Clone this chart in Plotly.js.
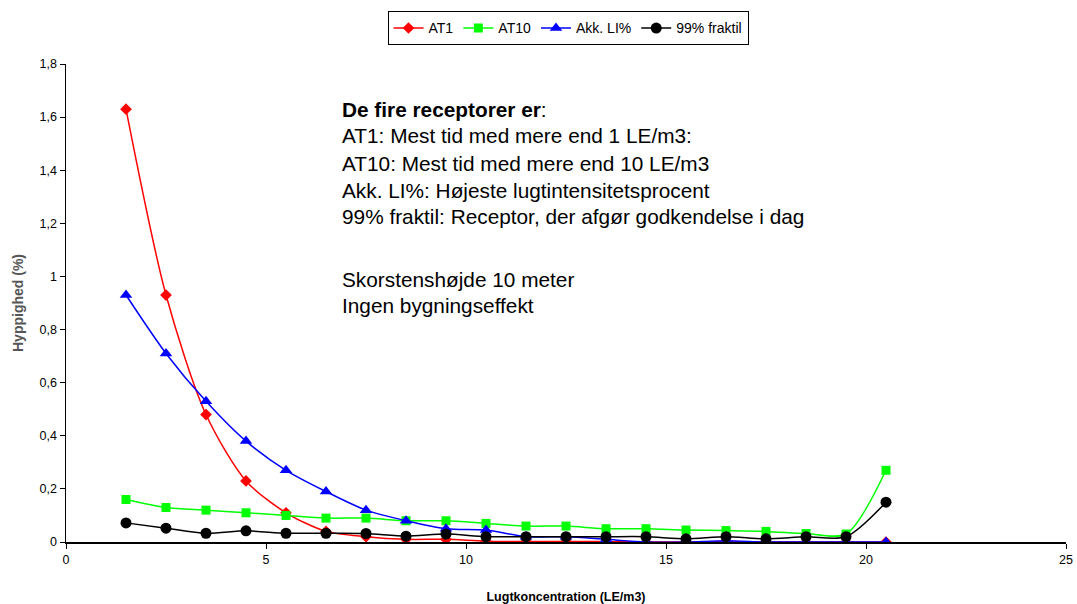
<!DOCTYPE html>
<html>
<head>
<meta charset="utf-8">
<script src="https://cdn.plot.ly/plotly-3.0.1.min.js"></script>
<style>html,body{margin:0;padding:0;background:#fff;}#chart{width:1077px;height:604px;}</style>
</head>
<body>
<div id="chart"></div>
<script>
const xValues = [1.5,2.5,3.5,4.5,5.5,6.5,7.5,8.5,9.5,10.5,11.5,12.5,13.5,14.5,15.5,16.5,17.5,18.5,19.5,20.5];
const at1 =   [1.63,0.93,0.48,0.23,0.11,0.04,0.02,0.01,0.01,0.003,0.002,0.002,0.002,0,0,0.002,0,0,0,0];
const at10 =  [0.16,0.13,0.12,0.11,0.10,0.09,0.09,0.08,0.08,0.07,0.06,0.06,0.05,0.05,0.045,0.043,0.04,0.032,0.03,0.27];
const akkLI = [0.93,0.71,0.53,0.38,0.27,0.19,0.12,0.08,0.05,0.045,0.02,0.02,0.01,0,0,0.005,0,0,0,0];
const frak99 =[0.072,0.052,0.033,0.042,0.033,0.033,0.032,0.022,0.03,0.02,0.02,0.02,0.02,0.02,0.012,0.02,0.012,0.02,0.02,0.15];
const seriesNames = ["AT1","AT10","Akk. LI%","99% fraktil"];
const noteLines = [
  "<b>De fire receptorer er</b>:",
  "AT1: Mest tid med mere end 1 LE/m3:",
  "AT10: Mest tid med mere end 10 LE/m3",
  "Akk. LI%: Højeste lugtintensitetsprocent",
  "99% fraktil: Receptor, der afgør godkendelse i dag",
  "Skorstenshøjde 10 meter",
  "Ingen bygningseffekt"
];
const noteYpx = [110,136,163,190,217,279,305];

const mk = (y, name, color, symbol, size) => ({
  x: xValues, y: y, name: name, type: 'scatter', mode: 'lines+markers',
  line: {color: color, width: 1.5, shape: 'spline', smoothing: 0.8},
  marker: {color: color, symbol: symbol, size: size, line: {width: 0}}
});
const data = [
  mk(at1, seriesNames[0], '#ff0000', 'diamond', 9),
  mk(at10, seriesNames[1], '#00ff00', 'square', 9),
  mk(akkLI, seriesNames[2], '#0000ff', 'triangle-up', 11),
  mk(frak99, seriesNames[3], '#000000', 'circle', 11)
];
const plotTop = 64, plotH = 478;
const annotations = noteLines.map((t, i) => ({
  xref: 'paper', yref: 'paper', x: 0.274, y: 1 - (noteYpx[i] - plotTop) / plotH,
  xanchor: 'left', yanchor: 'middle', align: 'left', showarrow: false,
  text: t, font: {family: 'Arial, Liberation Sans, sans-serif', size: 20.8, color: '#000'}
}));
const layout = {
  width: 1077, height: 604,
  margin: {l: 66, r: 11, t: 64, b: 62},
  paper_bgcolor: '#fff', plot_bgcolor: '#fff',
  separators: ',.',
  font: {family: 'Arial, Liberation Sans, sans-serif', size: 12, color: '#000'},
  showlegend: true,
  legend: {orientation: 'h', x: 0.502, xanchor: 'center', y: 1.11, yanchor: 'top',
    bordercolor: '#000', borderwidth: 1, bgcolor: '#fff',
    font: {size: 14}, itemwidth: 30, tracegroupgap: 0, traceorder: 'normal'},
  xaxis: {range: [0, 25], tickvals: [0,5,10,15,20,25], ticks: 'outside', ticklen: 5,
    tickcolor: '#000', showline: true, linecolor: '#000', linewidth: 1.5,
    showgrid: false, zeroline: false, tickfont: {size: 12.5},
    title: {text: '<b>Lugtkoncentration (LE/m3)</b>', font: {size: 12.5}, standoff: 26}},
  yaxis: {range: [0, 1.8], tickvals: [0,0.2,0.4,0.6,0.8,1,1.2,1.4,1.6,1.8], ticks: 'outside', ticklen: 5,
    tickcolor: '#000', showline: true, linecolor: '#000', linewidth: 1.5,
    showgrid: false, zeroline: false, tickfont: {size: 12.5},
    title: {text: '<b>Hyppighed (%)</b>', font: {size: 14, color: '#555'}, standoff: 12}},
  annotations: annotations
};
Plotly.newPlot('chart', data, layout, {displayModeBar: false, staticPlot: true});
</script>
</body>
</html>
